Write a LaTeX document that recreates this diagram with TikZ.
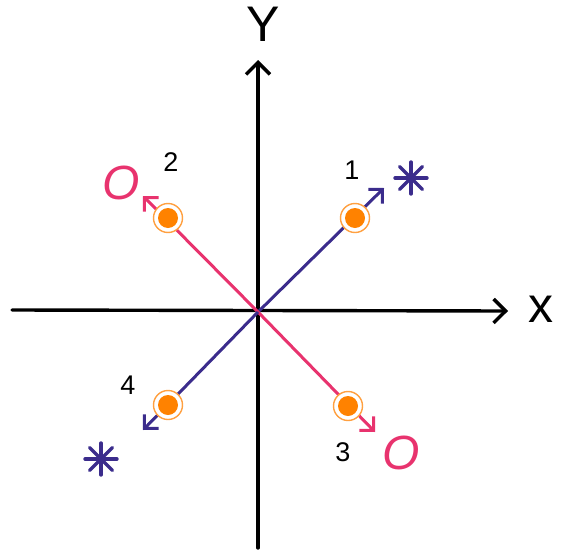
\documentclass[tikz,border=0pt]{standalone}
\usepackage{fontspec}
\setmainfont{Liberation Sans}
\usetikzlibrary{arrows.meta}
\definecolor{pinkc}{HTML}{E8336E}
\definecolor{bluec}{HTML}{3B2C8C}
\definecolor{dotc}{HTML}{FF8200}
\definecolor{ringc}{HTML}{FFA040}
\tikzset{
  axis/.style={line width=3.4pt, black, line cap=round, -{Straight Barb[length=12pt,width=24pt,line width=3.4pt]}},
  pinkarrow/.style={line width=3pt, pinkc, -{Straight Barb[length=10pt,width=20pt,line width=3pt]}},
  bluearrow/.style={line width=3pt, bluec, -{Straight Barb[length=10pt,width=20pt,line width=3pt]}},
  ring/.style={circle, draw=ringc, line width=1.4pt, fill=white, minimum size=29pt, inner sep=0pt},
  dot/.style={circle, fill=dotc, minimum size=20pt, inner sep=0pt},
  num/.style={font=\fontsize{27}{27}\selectfont, black},
  axlabel/.style={font=\fontsize{50}{50}\selectfont, black},
  olabel/.style={font=\fontsize{48}{48}\selectfont\itshape, pinkc},
  star/.style={line width=3.4pt, bluec, line cap=round}
}
\begin{document}
\begin{tikzpicture}[x=1pt,y=-1pt]
\useasboundingbox (0,0) rectangle (565,557);
% axes
\coordinate (o) at (258,312);
\coordinate (xl) at (12,310);
\coordinate (xr) at (508,311);
\coordinate (yb) at (258,548);
\coordinate (yt) at (258,60);
\draw[axis] (xl) -- (xr);
\draw[axis] (yb) -- (yt);
\node[axlabel] (xlab) at (541,309) {x};
\node[axlabel] (ylab) at (263,24) {Y};
% tips
\coordinate (t1) at (384,188);
\coordinate (t2) at (143,196);
\coordinate (t3) at (375,432);
\coordinate (t4) at (143,430);
\draw[bluearrow] (o) -- (t1);
\draw[pinkarrow] (o) -- (t2);
\draw[pinkarrow] (o) -- (t3);
\draw[bluearrow] (o) -- (t4);
% dots
\node[ring] (r1) at (355,218) {};
\node[dot] (d1) at (r1) {};
\node[ring] (r2) at (168,218) {};
\node[dot] (d2) at (r2) {};
\node[ring] (r3) at (348,406) {};
\node[dot] (d3) at (r3) {};
\node[ring] (r4) at (168,405) {};
\node[dot] (d4) at (r4) {};
% numbers
\node[num] (n1) at (352,170) {1};
\node[num] (n2) at (171,162) {2};
\node[num] (n3) at (343,452) {3};
\node[num] (n4) at (128,385) {4};
% O labels
\node[olabel] (o2) at (121,183) {O};
\node[olabel] (o3) at (401,453) {O};
% asterisks
\coordinate (s1) at (411,178);
\coordinate (s4) at (101,459);
\foreach \s in {s1,s4}{
  \foreach \a in {0,45,90,135}{
    \draw[star] ([shift={(\a:16pt)}]\s) -- ([shift={(\a+180:16pt)}]\s);
  }
}
\end{tikzpicture}
\end{document}
